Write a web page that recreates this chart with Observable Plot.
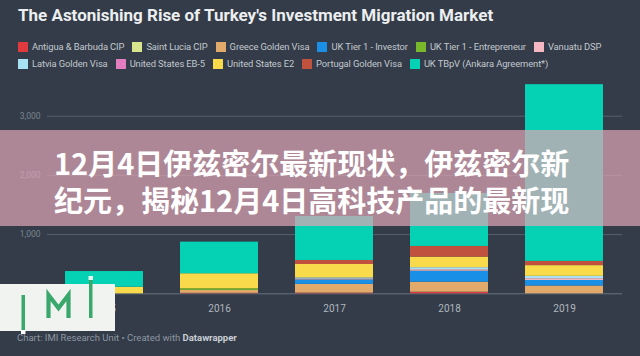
<!DOCTYPE html>
<html>
<head>
<meta charset="utf-8">
<script src="https://cdn.jsdelivr.net/npm/d3@7"></script>
<script src="https://cdn.jsdelivr.net/npm/@observablehq/plot@0.6"></script>
<style>
  html, body { margin: 0; padding: 0; }
  body { width: 640px; height: 356px; background: #333c48; position: relative; overflow: hidden; font-family: Roboto, "Noto Sans", sans-serif; }
  #title { position: absolute; left: 18px; top: 4px; font-size: 17px; font-weight: 700; color: #eceef0; line-height: 22px; white-space: nowrap; }
  #legend { position: absolute; left: 18px; top: 38px; font-size: 9.4px; letter-spacing: -0.1px; color: #c3c8cf; }
  .row { display: flex; height: 17px; align-items: center; white-space: nowrap; }
  .item { display: flex; align-items: center; margin-right: 8px; }
  .sw { width: 10px; height: 10px; margin-right: 4px; }
  #chart { position: absolute; left: 0; top: 76px; }
  #banner { position: absolute; left: 0; top: 130px; width: 640px; height: 96px; background: rgba(222,165,182,0.72); z-index: 2; }
  #banner div { position: absolute; left: 54px; top: 14px; font-family: "Noto Sans CJK SC", sans-serif; font-weight: 700; font-size: 29px; line-height: 37px; color: #ffffff; white-space: nowrap; }
  #logo { position: absolute; left: 0; top: 276px; z-index: 3; }
  #footer { position: absolute; left: 17px; top: 331px; font-size: 9.5px; line-height: 13px; color: #8e97a3; z-index: 4; white-space: nowrap; }
  #footer b { color: #c9ced5; }
</style>
</head>
<body>
<div id="title"></div>
<div id="legend"></div>
<div id="chart"></div>
<div id="banner"><div>12月4日伊兹密尔最新现状，伊兹密尔新<br>纪元，揭秘12月4日高科技产品的最新现</div></div>
<svg id="logo" width="120" height="62" viewBox="0 0 120 62">
  <rect x="0" y="8" width="115" height="47" fill="#f1f3f1"/>
  <rect x="21.5" y="19" width="3.5" height="37" fill="#3aa86c"/>
  <rect x="21" y="54" width="4.5" height="4" fill="#ffffff"/>
  <path d="M48.5 42 V19 L58.5 32 L68.5 19 V42" fill="none" stroke="#3aa86c" stroke-width="4.2" stroke-linejoin="miter"/>
  <rect x="89" y="1" width="3.5" height="41" fill="#3aa86c"/>
  <rect x="88.5" y="0" width="4.5" height="4" fill="#e8f6ee"/>
</svg>
<div id="footer">Chart: IMI Research Unit • Created with <b>Datawrapper</b></div>
<script>
const titleText = "The Astonishing Rise of Turkey's Investment Migration Market";
const years = ["2015", "2016", "2017", "2018", "2019"];
const seriesNames = [
  "Antigua & Barbuda CIP", "Saint Lucia CIP", "Greece Golden Visa", "UK Tier 1 - Investor",
  "UK Tier 1 - Entrepreneur", "Vanuatu DSP", "Latvia Golden Visa", "United States EB-5",
  "United States E2", "Portugal Golden Visa", "UK TBpV (Ankara Agreement*)"
];
const seriesColors = [
  "#e03a3e", "#d8e38e", "#e2aa6a", "#1a8fe6",
  "#78b82a", "#f5b8c2", "#a6e2f4", "#e27ec0",
  "#f8da4a", "#c0513f", "#05d2b4"
];
// values per series, one per year (2015..2019)
const antigua       = [0,   8,  12,  27,   0];
const saintLucia    = [0,   0,   0,   0,   0];
const greece        = [0,  50, 147, 169, 132];
const ukInvestor    = [0,   0,  75, 186,  93];
const ukEntrepreneur= [0,  28,   0,   0,   0];
const vanuatu       = [0,   0,  17,  25,  30];
const latvia        = [0,   0,  18,  34,  40];
const usEB5         = [0,   0,   0,   0,   0];
const usE2          = [111, 253, 226, 179, 181];
const portugal      = [0,   0,  68, 180,  71];
const ukTBpV        = [265, 534, 743, 895, 2986];
const yTicks = [0, 1000, 2000, 3000];

const seriesValues = [antigua, saintLucia, greece, ukInvestor, ukEntrepreneur, vanuatu, latvia, usEB5, usE2, portugal, ukTBpV];
const data = [];
seriesNames.forEach((s, i) => years.forEach((y, j) => data.push({year: y, series: s, value: seriesValues[i][j]})));

document.getElementById("title").textContent = titleText;

// legend
const legend = document.getElementById("legend");
[[0, 6], [6, 11]].forEach(([a, b]) => {
  const row = document.createElement("div");
  row.className = "row";
  for (let i = a; i < b; i++) {
    const it = document.createElement("div");
    it.className = "item";
    const sw = document.createElement("div");
    sw.className = "sw";
    sw.style.background = seriesColors[i];
    const tx = document.createElement("span");
    tx.textContent = seriesNames[i];
    it.appendChild(sw); it.appendChild(tx);
    row.appendChild(it);
  }
  legend.appendChild(row);
});

const chart = Plot.plot({
  width: 640,
  height: 240,
  marginLeft: 47,
  marginRight: 18,
  marginTop: 4.2,
  marginBottom: 22.7,
  style: {background: "transparent", fontFamily: "Roboto, sans-serif", overflow: "visible"},
  x: {domain: years, paddingInner: 0.32, paddingOuter: 0.16, label: null},
  y: {domain: [0, 3600], label: null},
  color: {domain: seriesNames, range: seriesColors},
  marks: [
    Plot.ruleY(yTicks.filter(d => d > 0), {stroke: "#56606c", strokeWidth: 1}),
    Plot.ruleY([0], {stroke: "#6a7480", strokeWidth: 1}),
    Plot.barY(data, Plot.stackY({order: seriesNames}, {x: "year", y: "value", fill: "series"})),
    Plot.axisX({tickSize: 0, tickPadding: 11, fontSize: 10, fill: "#b1b7bf", label: null}),
    Plot.axisY({ticks: yTicks, tickFormat: d3.format(","), tickSize: 0, tickPadding: 7, fontSize: 8.5, fill: "#7c8591", label: null})
  ]
});
document.getElementById("chart").appendChild(chart);
</script>
</body>
</html>
